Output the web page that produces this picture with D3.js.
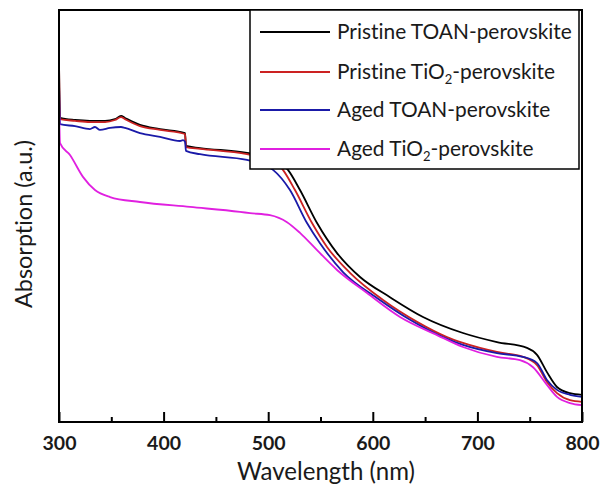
<!DOCTYPE html>
<html>
<head>
<meta charset="utf-8">
<script src="https://cdn.jsdelivr.net/npm/d3@7"></script>
<style>
  html, body { margin: 0; padding: 0; background: #fff; }
  svg { display: block; }
  text { font-family: Lato, "Open Sans", sans-serif; fill: #1a1a1a; font-variant-ligatures: none; font-feature-settings: "liga" 0, "clig" 0; }
</style>
</head>
<body>
<svg id="chart" width="603" height="493"></svg>
<script>
// ---- Data (wavelength in nm, absorption in a.u.) ----
const pristineTOAN = [
  [300, 0.876], [301, 0.738], [315.3, 0.733], [329.6, 0.731], [344.0, 0.731],
  [353.5, 0.735], [359.3, 0.743], [363.1, 0.738], [377.4, 0.721], [396.6, 0.711],
  [420.5, 0.701], [421.4, 0.670], [434.8, 0.665], [479.7, 0.653], [501.7, 0.641],
  [511.3, 0.631], [518.9, 0.612], [530.4, 0.563], [546.7, 0.483], [565.8, 0.410],
  [587.8, 0.352], [616.4, 0.303], [648.0, 0.255], [686.2, 0.216], [718.7, 0.194],
  [747.4, 0.180], [757.0, 0.163], [766.5, 0.121], [776.1, 0.085], [788.5, 0.070],
  [800, 0.066]
];
const pristineTiO2 = [
  [300, 0.876], [301, 0.735], [315.3, 0.731], [329.6, 0.728], [344.0, 0.728],
  [353.5, 0.733], [359.3, 0.740], [363.1, 0.735], [377.4, 0.718], [396.6, 0.709],
  [420.5, 0.699], [421.4, 0.667], [434.8, 0.663], [479.7, 0.650], [501.7, 0.636],
  [509.4, 0.626], [514.1, 0.612], [525.6, 0.563], [541.9, 0.483], [556.2, 0.425],
  [578.2, 0.362], [609.8, 0.296], [642.3, 0.243], [670.9, 0.206], [686.2, 0.192],
  [718.7, 0.170], [743.6, 0.158], [757.0, 0.138], [766.5, 0.097], [776.1, 0.070],
  [788.5, 0.053], [800, 0.049]
];
const agedTOAN = [
  [300, 0.828], [301, 0.723], [315.3, 0.718], [329.6, 0.711], [334.4, 0.716],
  [339.2, 0.709], [348.8, 0.714], [359.3, 0.716], [363.1, 0.714], [377.4, 0.701],
  [396.6, 0.692], [415.7, 0.682], [418.5, 0.684], [420.5, 0.680], [421.4, 0.658],
  [434.8, 0.650], [479.7, 0.636], [496.9, 0.624], [504.6, 0.612], [520.8, 0.563],
  [537.1, 0.483], [549.5, 0.434], [571.5, 0.364], [604.0, 0.301], [635.6, 0.248],
  [667.1, 0.206], [686.2, 0.187], [718.7, 0.167], [743.6, 0.158], [757.0, 0.143],
  [766.5, 0.102], [776.1, 0.078], [788.5, 0.066], [800, 0.061]
];
const agedTiO2 = [
  [300, 0.777], [301, 0.677], [310.5, 0.648], [322.9, 0.595], [334.4, 0.563],
  [348.8, 0.546], [377.4, 0.534], [425.2, 0.522], [473.0, 0.510], [482.6, 0.507],
  [501.7, 0.502], [518.0, 0.485], [530.4, 0.459], [546.7, 0.417], [565.8, 0.369],
  [594.5, 0.313], [626.0, 0.255], [661.4, 0.211], [686.2, 0.182], [718.7, 0.158],
  [740.7, 0.150], [753.2, 0.133], [766.5, 0.090], [776.1, 0.061], [788.5, 0.046],
  [800, 0.041]
];
const seriesNames = [
  ["Pristine TOAN-perovskite"],
  ["Pristine TiO", "2", "-perovskite"],
  ["Aged TOAN-perovskite"],
  ["Aged TiO", "2", "-perovskite"]
];
const seriesColors = ["#000000", "#cc2222", "#1a1aa8", "#e020e0"];
const xTicks = [300, 400, 500, 600, 700, 800];
const xMinorTicks = [350, 450, 550, 650, 750];
const xDomain = [300, 800];
const yDomain = [0, 1];

// ---- Layout ----
const svg = d3.select("#chart");
const m = { left: 59, right: 582, top: 10, bottom: 422 };
const x = d3.scaleLinear().domain(xDomain).range([m.left, m.right]);
const y = d3.scaleLinear().domain(yDomain).range([m.bottom, m.top]);

// scale a text's font size so it spans a target width
function fitWidth(sel, target) {
  const node = sel.node();
  const fs = parseFloat(sel.attr("font-size"));
  const w = node.getComputedTextLength();
  const nf = fs * target / w;
  sel.attr("font-size", nf);
  return nf;
}

const allSeries = [pristineTOAN, pristineTiO2, agedTOAN, agedTiO2];

const line = d3.line()
  .x(d => x(d[0]))
  .y(d => y(d[1]))
  .curve(d3.curveMonotoneX);

const plot = svg.append("g");
plot.append("defs").append("clipPath").attr("id", "clip")
  .append("rect").attr("x", m.left).attr("y", m.top)
  .attr("width", m.right - m.left).attr("height", m.bottom - m.top);

plot.append("g").attr("clip-path", "url(#clip)")
  .selectAll("path").data(allSeries).join("path")
  .attr("d", line)
  .attr("fill", "none")
  .attr("stroke", (d, i) => seriesColors[i])
  .attr("stroke-width", 1.8)
  .attr("stroke-linejoin", "round");

// Bottom axis with inward ticks
const xAxis = d3.axisBottom(x).tickValues(xTicks).tickSize(-10).tickPadding(14)
  .tickFormat(d3.format("d"));
const gx = svg.append("g").attr("transform", `translate(0,${m.bottom})`).call(xAxis);
gx.select(".domain").remove();
gx.selectAll(".tick line").attr("stroke", "#000").attr("stroke-width", 2);
gx.selectAll(".tick text")
  .attr("font-family", "Lato, sans-serif")
  .attr("font-weight", "bold")
  .attr("font-size", 20)
  .attr("fill", "#1a1a1a");
const tickFs = fitWidth(gx.select(".tick text"), 34);
gx.selectAll(".tick text").attr("font-size", tickFs);

const xAxisMinor = d3.axisBottom(x).tickValues(xMinorTicks).tickSize(-5).tickFormat("");
const gxm = svg.append("g").attr("transform", `translate(0,${m.bottom})`).call(xAxisMinor);
gxm.select(".domain").remove();
gxm.selectAll(".tick line").attr("stroke", "#000").attr("stroke-width", 2);

// Frame
svg.append("rect")
  .attr("x", m.left).attr("y", m.top)
  .attr("width", m.right - m.left).attr("height", m.bottom - m.top)
  .attr("fill", "none").attr("stroke", "#000").attr("stroke-width", 2);

// Axis titles
const xt = svg.append("text")
  .attr("x", 326).attr("y", 480)
  .attr("text-anchor", "middle")
  .attr("font-size", 21)
  .text("Wavelength (nm)");
fitWidth(xt, 178);

const yt = svg.append("text")
  .attr("transform", "translate(32,224) rotate(-90)")
  .attr("text-anchor", "middle")
  .attr("font-size", 21)
  .text("Absorption (a.u.)");
fitWidth(yt, 168);

// Legend
const lg = svg.append("g");
lg.append("rect")
  .attr("x", 250).attr("y", 10).attr("width", 329).attr("height", 159)
  .attr("fill", "#fff").attr("stroke", "#000").attr("stroke-width", 1.5);
const rowY = [32, 72, 110, 149];
const legendTexts = [];
seriesNames.forEach((parts, i) => {
  lg.append("line")
    .attr("x1", 260).attr("x2", 330)
    .attr("y1", rowY[i]).attr("y2", rowY[i])
    .attr("stroke", seriesColors[i]).attr("stroke-width", 2);
  const t = lg.append("text")
    .attr("x", 337).attr("y", rowY[i] + 7)
    .attr("font-size", 20);
  parts.forEach((p, j) => {
    const ts = t.append("tspan").text(p);
    if (p === "2") ts.attr("font-size", 13).attr("dy", 5);
    else if (j > 0 && parts[j - 1] === "2") ts.attr("dy", -5);
  });
  legendTexts.push(t);
});
const legFs = fitWidth(legendTexts[0], 235);
legendTexts.forEach(t => t.attr("font-size", legFs));
</script>
</body>
</html>
